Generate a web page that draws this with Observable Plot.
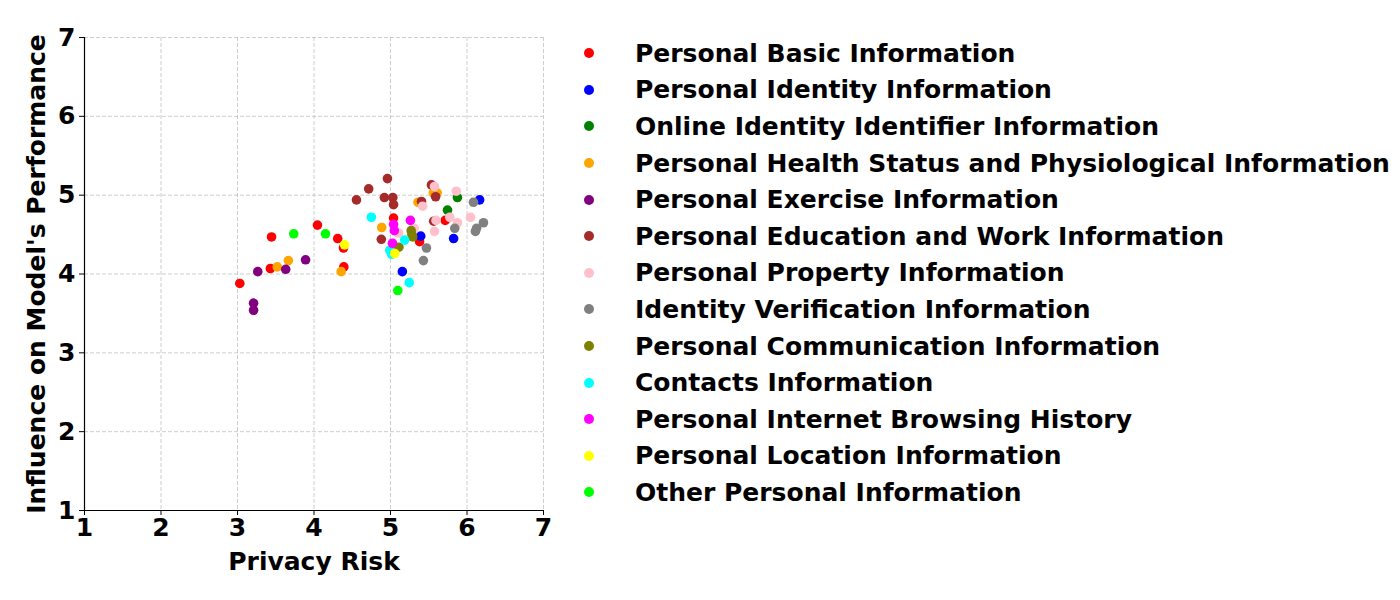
<!DOCTYPE html>
<html><head><meta charset="utf-8">
<script src="https://cdn.jsdelivr.net/npm/d3@7"></script>
<script src="https://cdn.jsdelivr.net/npm/@observablehq/plot@0.6"></script>
<style>
body{margin:0;background:#fff;font-family:"DejaVu Sans",sans-serif;}
#wrap{position:relative;width:1400px;height:600px;}
#legend{position:absolute;left:579px;top:35px;font-weight:bold;font-size:25px;}
.row{display:flex;align-items:center;height:36.6px;white-space:nowrap;}
.dot{width:10px;height:10px;border-radius:50%;margin-left:5px;margin-right:41px;}
</style></head>
<body><div id="wrap"><div id="legend"></div></div>
<script>
const categories = [
  "Personal Basic Information","Personal Identity Information","Online Identity Identifier Information",
  "Personal Health Status and Physiological Information","Personal Exercise Information",
  "Personal Education and Work Information","Personal Property Information","Identity Verification Information",
  "Personal Communication Information","Contacts Information","Personal Internet Browsing History",
  "Personal Location Information","Other Personal Information"
];
const colors = ["red","blue","green","orange","purple","brown","pink","gray","olive","cyan","magenta","yellow","lime"];

// [privacy risk, influence] per category
const basicInfo = [[3.03,3.88],[3.445,4.47],[3.43,4.07],[4.045,4.62],[4.31,4.45],[4.385,4.33],[4.39,4.09],[5.04,4.71],[5.38,4.41],[5.715,4.68]];
const identityInfo = [[6.165,4.94],[5.395,4.48],[5.825,4.45],[5.155,4.03]];
const onlineInfo = [[5.875,4.97],[5.745,4.81]];
const healthInfo = [[3.52,4.09],[3.665,4.17],[4.355,4.03],[4.885,4.59],[5.36,4.91],[5.56,5.03],[5.61,5.03]];
const exerciseInfo = [[3.21,3.63],[3.21,3.54],[3.265,4.03],[3.63,4.06],[3.89,4.18]];
const educationInfo = [[4.96,5.21],[4.715,5.08],[4.555,4.94],[4.92,4.97],[5.03,4.97],[5.04,4.88],[4.88,4.44],[5.535,5.13],[5.405,4.92],[5.59,4.98],[5.565,4.67]];
const propertyInfo = [[5.575,5.11],[5.86,5.05],[5.42,4.86],[5.595,4.68],[5.775,4.72],[5.875,4.65],[6.045,4.72],[5.575,4.54],[5.31,4.58],[5.105,4.52]];
const verificationInfo = [[6.085,4.91],[6.215,4.65],[6.125,4.58],[6.11,4.54],[5.84,4.58],[5.47,4.33],[5.43,4.17]];
const communicationInfo = [[5.27,4.55],[5.28,4.50],[5.29,4.47],[5.11,4.34]];
const contactsInfo = [[4.75,4.72],[5.185,4.43],[4.99,4.30],[5.015,4.25],[5.245,3.89]];
const browsingInfo = [[5.26,4.68],[5.04,4.63],[5.05,4.55],[5.025,4.39]];
const locationInfo = [[4.4,4.37],[5.055,4.26]];
const otherInfo = [[3.735,4.51],[4.15,4.51],[5.095,3.79]];
const series = [basicInfo,identityInfo,onlineInfo,healthInfo,exerciseInfo,educationInfo,propertyInfo,verificationInfo,communicationInfo,contactsInfo,browsingInfo,locationInfo,otherInfo];
const ticks = [1,2,3,4,5,6,7];

const data = series.flatMap((s,i)=>s.map(([x,y])=>({x,y,cat:categories[i]})));

const chart = Plot.plot({
  width:1400, height:600,
  marginLeft:84, marginRight:857, marginTop:37, marginBottom:90,
  style:{fontFamily:"DejaVu Sans",fontSize:"25px",fontWeight:"bold",color:"black",background:"white"},
  x:{domain:[1,7],ticks},
  y:{domain:[1,7],ticks},
  color:{domain:categories,range:colors},
  marks:[
    Plot.gridX(ticks,{stroke:"#b0b0b0",strokeOpacity:0.8,strokeDasharray:"4,2",strokeWidth:0.8}),
    Plot.gridY(ticks,{stroke:"#b0b0b0",strokeOpacity:0.8,strokeDasharray:"4,2",strokeWidth:0.8}),
    Plot.axisX({ticks,tickFormat:"d",tickSize:5,tickPadding:3,fontSize:25,fontWeight:"bold",label:"Privacy Risk",labelAnchor:"center",labelArrow:"none",labelOffset:59}),
    Plot.axisY({ticks,tickFormat:"d",tickSize:5,tickPadding:4,fontSize:25,fontWeight:"bold",label:"Influence on Model's Performance",labelAnchor:"center",labelArrow:"none",labelOffset:57}),
    Plot.ruleX([1],{stroke:"black",strokeWidth:1.2}),
    Plot.ruleY([1],{stroke:"black",strokeWidth:1.2}),
    Plot.dot(data,{x:"x",y:"y",fill:"cat",r:4.8,stroke:null})
  ]
});
document.getElementById("wrap").prepend(chart);

const leg = document.getElementById("legend");
categories.forEach((c,i)=>{
  const row=document.createElement("div");row.className="row";
  const d=document.createElement("span");d.className="dot";d.style.background=colors[i];
  const t=document.createElement("span");t.textContent=c;
  row.append(d,t);leg.append(row);
});
</script></body></html>
